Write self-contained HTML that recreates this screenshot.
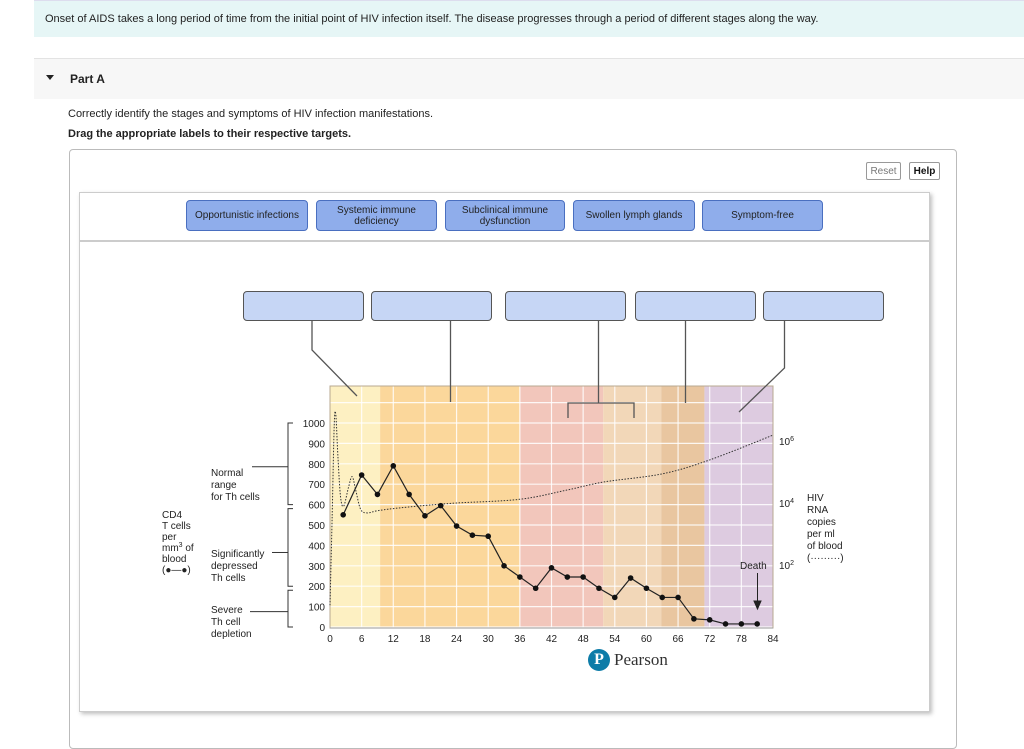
<!DOCTYPE html>
<html><head><meta charset="utf-8"><style>
body{margin:0;width:1024px;height:696px;overflow:hidden;background:#fff;font-family:"Liberation Sans",Arial,sans-serif;position:relative}
.abs{position:absolute}
.lbl{position:absolute;background:#8fadeb;border:1px solid #4a6fc0;border-radius:4px;font-size:10px;color:#222;display:flex;align-items:center;justify-content:center;text-align:center;line-height:11px;box-sizing:border-box}
.tgt{position:absolute;background:#c6d6f5;border:1px solid #555;border-radius:4px;box-sizing:border-box;top:291px;height:30px;width:121px}
</style></head><body>
<div class="abs" style="left:34px;top:0;width:990px;height:36px;background:#e6f6f6;border-top:1px solid #dde"></div>
<div class="abs" style="left:45px;top:13px;font-size:11px;color:#222">Onset of AIDS takes a long period of time from the initial point of HIV infection itself. The disease progresses through a period of different stages along the way.</div>
<div class="abs" style="left:34px;top:58px;width:990px;height:40px;background:#f7f7f7;border-top:1px solid #e3e3e3"></div>
<div class="abs" style="left:46px;top:75px;width:0;height:0;border-left:4px solid transparent;border-right:4px solid transparent;border-top:5px solid #222"></div>
<div class="abs" style="left:70px;top:72px;font-size:12px;font-weight:bold;color:#222">Part A</div>
<div class="abs" style="left:68px;top:108px;font-size:11px;color:#222">Correctly identify the stages and symptoms of HIV infection manifestations.</div>
<div class="abs" style="left:68px;top:128px;font-size:11px;font-weight:bold;color:#222">Drag the appropriate labels to their respective targets.</div>
<div class="abs" style="left:69px;top:149px;width:888px;height:600px;border:1px solid #bbb;border-radius:4px;box-sizing:border-box"></div>
<div class="abs" style="left:866px;top:162px;width:35px;height:18px;border:1px solid #999;border-radius:2px;font-size:10px;color:#777;text-align:center;line-height:17px;box-sizing:border-box">Reset</div>
<div class="abs" style="left:909px;top:162px;width:31px;height:18px;border:1px solid #999;border-radius:2px;font-size:10px;font-weight:bold;color:#111;text-align:center;line-height:17px;box-sizing:border-box">Help</div>
<div class="abs" style="left:79px;top:192px;width:851px;height:520px;border:1px solid #ccc;box-shadow:2px 2px 4px rgba(0,0,0,.25);box-sizing:border-box"></div>
<div class="abs" style="left:80px;top:240px;width:850px;height:2px;background:#ccc"></div>
<div class="lbl" style="left:186px;top:200px;width:122px;height:31px">Opportunistic infections</div>
<div class="lbl" style="left:316px;top:200px;width:121px;height:31px">Systemic immune<br>deficiency</div>
<div class="lbl" style="left:445px;top:200px;width:120px;height:31px">Subclinical immune<br>dysfunction</div>
<div class="lbl" style="left:573px;top:200px;width:122px;height:31px">Swollen lymph glands</div>
<div class="lbl" style="left:702px;top:200px;width:121px;height:31px">Symptom-free</div>
<div class="tgt" style="left:243px"></div>
<div class="tgt" style="left:371px"></div>
<div class="tgt" style="left:505px"></div>
<div class="tgt" style="left:635px"></div>
<div class="tgt" style="left:763px"></div>

<svg id="chart" class="abs" style="left:0;top:0" width="1024" height="696"
 font-family="Liberation Sans, Arial, sans-serif"></svg>

<div class="abs" style="left:588px;top:648px;height:24px;display:flex;align-items:center">
<div style="width:22px;height:22px;border-radius:50%;background:#0d7ca8;color:#fff;font-weight:bold;font-size:16px;text-align:center;line-height:22px;font-family:'Liberation Serif',serif">P</div>
<span style="font-family:'Liberation Serif',serif;font-size:17px;color:#333;margin-left:4px">Pearson</span></div>

<script>
const months=[2.5,6,9,12,15,18,21,24,27,30,33,36,39,42,45,48,51,54,57,60,63,66,69,72,75,78,81];
const cd4=[550,745,650,790,650,545,595,495,450,445,300,245,190,290,245,245,190,145,240,190,145,145,40,35,15,15,15];
const rnaMonths=[0,0.4,0.8,1.1,1.5,2,2.6,3.5,4.2,4.9,5.8,7,9,12,18,24,36,45,52,63,72,84];
const rnaLog=[0.7,3.5,6.5,6.85,5.5,4.2,3.9,4.5,4.85,4.4,3.8,3.68,3.75,3.82,3.92,4.0,4.12,4.42,4.68,4.94,5.39,6.19];
const bandStarts=[0,9.5,36,51.8,62.8,71];
const bandEnds=[9.5,36,51.8,62.8,71,84];
const bandColors=['#fdf0c2','#fbd79b','#f2c6bb','#f2d7b8','#e9c6a0','#ddcbe0'];
const xTicks=[0,6,12,18,24,30,36,42,48,54,60,66,72,78,84];
const yTicks=[0,100,200,300,400,500,600,700,800,900,1000];
const rnaTicks=[2,4,6];

const X=m=>330+m*(443/84);
const Y=v=>627-v*0.204;
const YL=l=>565-(l-2)*31;
const svg=document.getElementById('chart');
const NS='http://www.w3.org/2000/svg';
function mk(t,a){const e=document.createElementNS(NS,t);for(const k in a)e.setAttribute(k,a[k]);svg.appendChild(e);return e;}

bandStarts.forEach((s,i)=>{const r=mk('rect',{x:X(s),y:386,width:X(bandEnds[i])-X(s),height:242,fill:bandColors[i]});

});
xTicks.forEach(t=>{if(t>0&&t<84){const l=mk('line',{x1:X(t),x2:X(t),y1:386,y2:628,stroke:'#fff','stroke-width':1.2,'stroke-opacity':0.85});

}});
for(let v=0;v<=1100;v+=100){const y=Y(v);if(y<387)continue;const l=mk('line',{x1:330,x2:773,y1:y,y2:y,stroke:'#fff','stroke-width':1.2,'stroke-opacity':0.85});

}
const frame=mk('rect',{x:330,y:386,width:443,height:242,fill:'none',stroke:'#b8a890','stroke-width':1});


const ax=mk('line',{x1:330,x2:773,y1:628,y2:628,stroke:'#999'});



xTicks.forEach(t=>{const e=mk('text',{x:X(t),y:642,'font-size':10,'text-anchor':'middle',fill:'#222'});e.textContent=t;

});
yTicks.forEach(t=>{const e=mk('text',{x:325,y:Y(t)+4,'font-size':10,'text-anchor':'end',fill:'#222'});e.textContent=t;

});
rnaTicks.forEach(t=>{const e=mk('text',{x:779,y:YL(t)+4,'font-size':10,fill:'#222'});e.innerHTML='10<tspan dy="-4" font-size="7">'+t+'</tspan>';

});

// RNA dotted curve (catmull-rom)
const pts=rnaMonths.map((m,i)=>[X(m),YL(rnaLog[i])]);
let d='M'+pts[0][0]+','+pts[0][1];
for(let i=0;i<pts.length-1;i++){const p0=pts[Math.max(0,i-1)],p1=pts[i],p2=pts[i+1],p3=pts[Math.min(pts.length-1,i+2)];
d+=' C'+(p1[0]+(p2[0]-p0[0])/6)+','+(p1[1]+(p2[1]-p0[1])/6)+' '+(p2[0]-(p3[0]-p1[0])/6)+','+(p2[1]-(p3[1]-p1[1])/6)+' '+p2[0]+','+p2[1];}
const rl=mk('path',{d:d,fill:'none',stroke:'#333','stroke-width':1,'stroke-dasharray':'1.5,1.5'});



const cl=mk('polyline',{points:months.map((m,i)=>X(m)+','+Y(cd4[i])).join(' '),fill:'none',stroke:'#222','stroke-width':1.2});


months.forEach((m,i)=>{const c=mk('circle',{cx:X(m),cy:Y(cd4[i]),r:2.8,fill:'#111'});

});

// connectors
const cons=['M312,320 L312,350 L357,396','M450.5,320 L450.5,402','M598.5,320 L598.5,403 M568,418 L568,403 L634,403 L634,418','M685.5,320 L685.5,403','M784.5,320 L784.5,368 L739,412'];
cons.forEach(c=>{const p=mk('path',{d:c,fill:'none',stroke:'#555','stroke-width':1.3});

});

// brackets on left
const br=[[1000,600],[580,200],[180,0]];
br.forEach(b=>{const p=mk('path',{d:`M293,${Y(b[0])} L288,${Y(b[0])} L288,${Y(b[1])} L293,${Y(b[1])}`,fill:'none',stroke:'#333','stroke-width':1});

});
const ticks=[[Y(800)+3,252],[Y(380)+3,272],[Y(90)+3,250]];
ticks.forEach(t=>{const l=mk('line',{x1:t[1],x2:288,y1:t[0],y2:t[0],stroke:'#333'});

});
function txt(lines,x,y,name,lh){const e=mk('text',{x:x,y:y,'font-size':10,fill:'#222'});
lines.forEach((s,i)=>{const t=document.createElementNS(NS,'tspan');t.setAttribute('x',x);t.setAttribute('dy',i?lh||12:0);t.innerHTML=s;e.appendChild(t);});}
txt(['Normal','range','for Th cells'],211,476,'normal-range-label');
txt(['Significantly','depressed','Th cells'],211,557,'depressed-label');
txt(['Severe','Th cell','depletion'],211,613,'severe-label');
txt(['CD4','T cells','per','mm<tspan dy="-4" font-size="7">3</tspan><tspan dy="4"> of</tspan>','blood','(●—●)'],162,518,'y-axis-title',11);
txt(['HIV','RNA','copies','per ml','of blood','(·········)'],807,501,'rna-axis-title',12);
const de=mk('text',{x:740,y:569,'font-size':10,fill:'#222'});de.textContent='Death';


const da=mk('path',{d:'M757.5,573 L757.5,606 M754,601 L757.5,609 L761,601 Z',stroke:'#222',fill:'#222'});


</script>
</body></html>
